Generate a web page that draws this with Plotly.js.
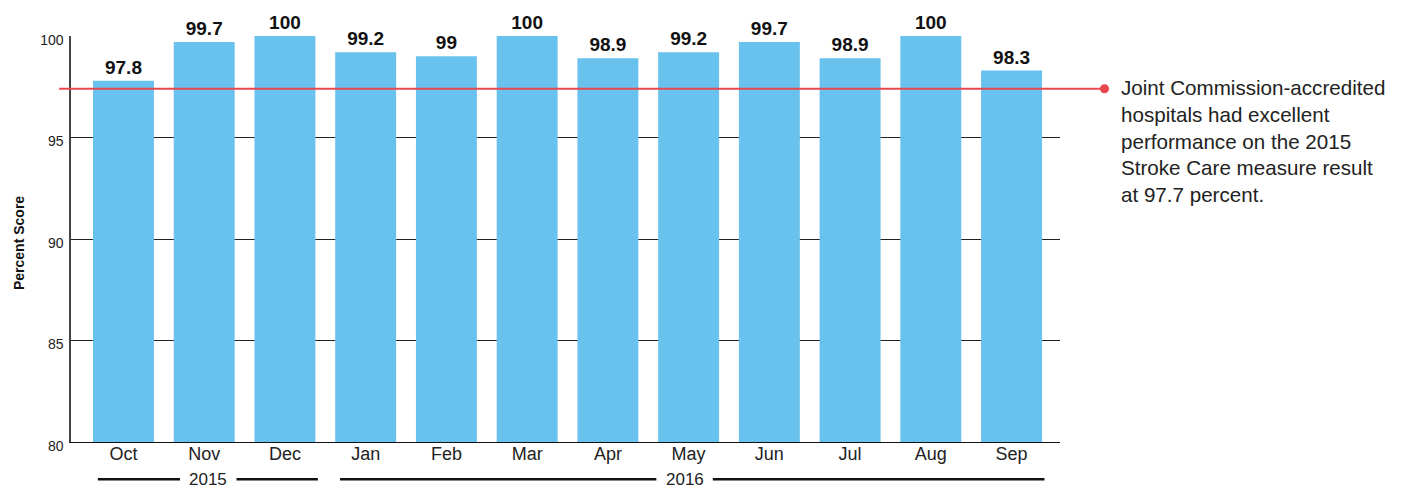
<!DOCTYPE html>
<html>
<head>
<meta charset="utf-8">
<script src="https://cdn.plot.ly/plotly-3.0.1.min.js"></script>
<style>html,body{margin:0;padding:0;background:#fff;}#chart{width:1403px;height:489px;}</style>
</head>
<body>
<div id="chart"></div>
<script>
const months = ["Oct","Nov","Dec","Jan","Feb","Mar","Apr","May","Jun","Jul","Aug","Sep"];
const scores = [97.8, 99.7, 100, 99.2, 99, 100, 98.9, 99.2, 99.7, 98.9, 100, 98.3];
const years = ["2015", "2016"];
const yearFirstIdx = [0, 3];
const yearLastIdx = [2, 11];
const benchmarkLine = 97.4;
const noteText = "Joint Commission-accredited<br>hospitals had excellent<br>performance on the 2015<br>Stroke Care measure result<br>at 97.7 percent.";

const idx = months.map((m, i) => i);

const trace = {
  type: "bar",
  x: idx,
  y: scores,
  text: scores.map(v => String(v)),
  textposition: "outside",
  cliponaxis: false,
  textfont: {family: "Liberation Sans, Arial", size: 19, color: "#111", weight: 700},
  marker: {color: "#69c1ee"},
  width: 0.755,
  hoverinfo: "none"
};

const shapes = [];
const annotations = [];
const halfW = 0.755 / 2;
const yearMid = [1.05, 6.95];
const yearY = -0.092;
years.forEach((yr, k) => {
  const a = yearFirstIdx[k] - halfW + 0.06;
  const b = yearLastIdx[k] + halfW + 0.03;
  const mid = yearMid[k];
  const gap = 0.35;
  shapes.push({type: "line", xref: "x", yref: "paper", x0: a, x1: mid - gap, y0: yearY, y1: yearY, line: {color: "#111", width: 2.5}});
  shapes.push({type: "line", xref: "x", yref: "paper", x0: mid + gap, x1: b, y0: yearY, y1: yearY, line: {color: "#111", width: 2.5}});
  annotations.push({xref: "x", yref: "paper", x: mid, y: yearY, text: yr, showarrow: false, xanchor: "center", yanchor: "middle",
    font: {family: "Liberation Sans, Arial", size: 17, color: "#222"}});
});

shapes.push({type: "line", xref: "paper", yref: "y", x0: -0.012, x1: 1.045, y0: benchmarkLine, y1: benchmarkLine, line: {color: "#e8474e", width: 2}});
shapes.push({type: "circle", xref: "paper", yref: "y", xsizemode: "pixel", ysizemode: "pixel", xanchor: 1.045, yanchor: benchmarkLine,
  x0: -4.5, x1: 4.5, y0: -4.5, y1: 4.5, fillcolor: "#e8474e", line: {color: "#e8474e", width: 0}});

annotations.push({xref: "paper", yref: "paper", x: 1.0597, y: 0.907, xanchor: "left", yanchor: "top", align: "left", showarrow: false,
  text: noteText, font: {family: "Liberation Sans, Arial", size: 20.6, color: "#222"}});

annotations.push({xref: "paper", yref: "paper", x: -0.0526, y: 0.49, xanchor: "center", yanchor: "middle", textangle: -90, showarrow: false,
  text: "<b>Percent Score</b>", font: {family: "Liberation Sans, Arial", size: 14, color: "#111"}});

const layout = {
  width: 1403, height: 489,
  margin: {l: 71, r: 343, t: 36, b: 47, pad: 0},
  paper_bgcolor: "#fff", plot_bgcolor: "#fff",
  showlegend: false,
  xaxis: {
    range: [-0.65, 11.6],
    tickmode: "array", tickvals: idx, ticktext: months,
    showgrid: false, zeroline: false,
    showline: true, linecolor: "#111", linewidth: 1.3,
    ticks: "", ticklabelstandoff: -5,
    tickfont: {family: "Liberation Sans, Arial", size: 18, color: "#222"},
    fixedrange: true
  },
  yaxis: {
    range: [80, 100],
    tickvals: [80, 85, 90, 95, 100],
    showgrid: true, gridcolor: "#222", gridwidth: 1,
    zeroline: false,
    showline: true, linecolor: "#444", linewidth: 1.6,
    ticks: "", ticklabelstandoff: 3, ticklabelshift: 4,
    tickfont: {family: "Liberation Sans, Arial", size: 14, color: "#222"},
    fixedrange: true
  },
  shapes: shapes,
  annotations: annotations
};

Plotly.newPlot("chart", [trace], layout, {displayModeBar: false, staticPlot: true});
</script>
</body>
</html>
